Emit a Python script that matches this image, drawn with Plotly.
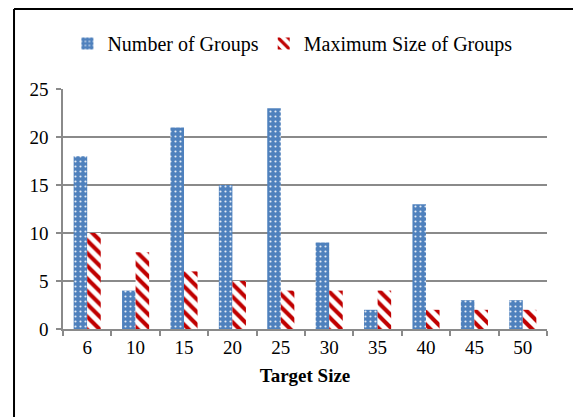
import plotly.graph_objects as go

# Chart data
target_sizes = ["6", "10", "15", "20", "25", "30", "35", "40", "45", "50"]
number_of_groups = [18, 4, 21, 15, 23, 9, 2, 13, 3, 3]
max_group_size = [10, 8, 6, 5, 4, 4, 4, 2, 2, 2]

FONT = "Liberation Serif, Times New Roman, serif"
GRID = "#8a8a8a"

fig = go.Figure()
fig.add_trace(go.Bar(
    x=target_sizes, y=number_of_groups, name="Number of Groups",
    marker=dict(
        color="#4F81BD", line=dict(width=0),
        pattern=dict(shape=".", fgcolor="white", bgcolor="#4F81BD",
                     fgopacity=0.85, size=5, solidity=0.15,
                     fillmode="replace"),
    ),
))
fig.add_trace(go.Bar(
    x=target_sizes, y=max_group_size, name="Maximum Size of Groups",
    marker=dict(
        color="white", line=dict(width=0),
        pattern=dict(shape="\\", fgcolor="#C00000", bgcolor="white",
                     fgopacity=1, size=9, solidity=0.45,
                     fillmode="replace"),
    ),
))

# Outer frame: left and top edges of the chart border
frame = dict(color="black", width=2)
fig.add_shape(type="line", xref="paper", yref="paper",
              x0=-0.1012, x1=-0.1012, y0=-0.5, y1=1.333, line=frame)
fig.add_shape(type="line", xref="paper", yref="paper",
              x0=-0.1012, x1=1.3, y0=1.333, y1=1.333, line=frame)

fig.update_layout(
    width=573, height=417,
    margin=dict(l=63, r=26, t=89, b=88),
    paper_bgcolor="white", plot_bgcolor="white",
    font=dict(family=FONT, size=19, color="black"),
    barmode="group", bargap=0.44, bargroupgap=0,
    showlegend=True,
    legend=dict(orientation="h", x=0.474, xanchor="center",
                y=1.19, yanchor="middle",
                font=dict(family=FONT, size=20, color="black"),
                traceorder="normal", bgcolor="rgba(0,0,0,0)"),
    xaxis=dict(
        type="category", tickson="boundaries", ticks="outside",
        ticklen=5, tickwidth=1.5, tickcolor=GRID,
        showline=True, linecolor=GRID, linewidth=1.5,
        showgrid=False, tickfont=dict(family=FONT, size=19),
        title=dict(text="<b>Target Size</b>", font=dict(family=FONT, size=19),
                   standoff=12),
    ),
    yaxis=dict(
        range=[0, 25], tickvals=[0, 5, 10, 15, 20, 25],
        ticks="outside", ticklen=5, tickwidth=1.5, tickcolor=GRID,
        showline=True, linecolor=GRID, linewidth=1.5,
        showgrid=True, gridcolor=GRID, gridwidth=1.5,
        zeroline=False, tickfont=dict(family=FONT, size=19),
        ticklabelstandoff=4,
    ),
)

fig.write_html("out.html")
